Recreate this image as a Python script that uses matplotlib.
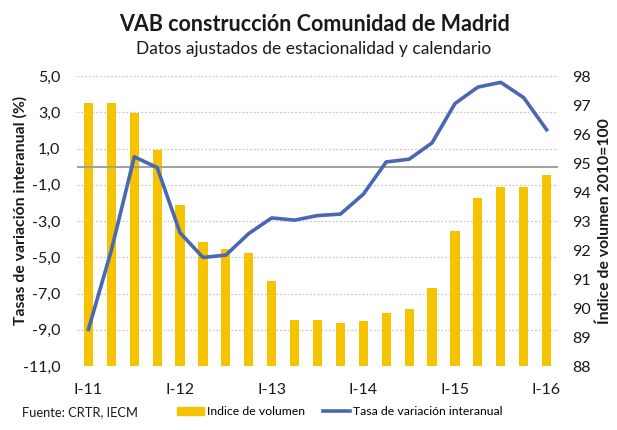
import numpy as np
import matplotlib.pyplot as plt
from matplotlib.patches import Patch
from matplotlib.lines import Line2D

plt.rcParams['font.family'] = ['Lato', 'DejaVu Sans']

# trimestres I-11 ... I-16
quarters = ['I-11', 'II-11', 'III-11', 'IV-11', 'I-12', 'II-12', 'III-12', 'IV-12',
            'I-13', 'II-13', 'III-13', 'IV-13', 'I-14', 'II-14', 'III-14', 'IV-14',
            'I-15', 'II-15', 'III-15', 'IV-15', 'I-16']
indice = [97.08, 97.08, 96.73, 95.46, 93.55, 92.26, 92.03, 91.90, 90.93, 89.58, 89.57,
          89.50, 89.56, 89.83, 89.96, 90.69, 92.65, 93.80, 94.18, 94.17, 94.58]
tasa = [-8.98, -4.61, 0.54, -0.05, -3.65, -5.01, -4.88, -3.69, -2.83, -2.95, -2.70,
        -2.62, -1.52, 0.26, 0.41, 1.31, 3.48, 4.39, 4.65, 3.81, 2.04]
left_ticks = [5, 3, 1, -1, -3, -5, -7, -9, -11]
right_ticks = [88, 89, 90, 91, 92, 93, 94, 95, 96, 97, 98]

bar_color = '#F5C300'
line_color = '#4A67B3'
text_color = '#1a1a1a'

x = np.arange(len(quarters))

fig = plt.figure(figsize=(6.17, 4.30), dpi=100)
ax = fig.add_axes([0.1248, 0.1488, 0.7796, 0.6744])
ax2 = ax.twinx()

# bars on the right axis (index), drawn underneath
ax2.bar(x, np.array(indice) - 88, bottom=88, width=0.4, color=bar_color, zorder=2)
ax2.set_ylim(88, 98)
ax2.set_yticks(right_ticks)

ax.set_ylim(-11, 5)
ax.set_xlim(-0.5, len(quarters) - 0.5)
ax.set_yticks(left_ticks)
ax.set_yticklabels([f'{t:.1f}'.replace('.', ',') for t in left_ticks])

# dotted gridlines at left-axis ticks, behind the bars
for t in left_ticks:
    ax2.plot([-0.5, len(quarters) - 0.5], [t, t], transform=ax.transData,
             color='#C8C8C8', lw=0.9, ls=(0, (1.5, 1.5)), zorder=1)

ax.set_zorder(ax2.get_zorder() + 1)
ax.patch.set_visible(False)
ax.axhline(0, color='#A0A0A0', lw=1.4, zorder=2)
ax.plot(x, tasa, color=line_color, lw=2.6, zorder=3, solid_joinstyle='round')

ax.set_xticks(x[::4])
ax.set_xticklabels(quarters[::4])

for a in (ax, ax2):
    for s in a.spines.values():
        s.set_visible(False)
    a.tick_params(length=0, labelsize=11.5, colors=text_color)
ax.tick_params(axis='x', pad=12)
ax.tick_params(axis='y', pad=12)
ax2.tick_params(axis='y', pad=10)

ax.set_ylabel('Tasas de variación interanual (%)', fontsize=11.3, fontweight='bold',
              color=text_color)
ax.yaxis.set_label_coords(-0.102, 0.538)
ax2.set_ylabel('Índice de volumen 2010=100', fontsize=11.3, fontweight='bold',
               color=text_color)
ax2.yaxis.set_label_coords(1.083, 0.5)

fig.text(0.509, 0.944, 'VAB construcción Comunidad de Madrid', ha='center', va='center',
         fontsize=15.5, fontweight='bold', color=text_color)
fig.text(0.509, 0.885, 'Datos ajustados de estacionalidad y calendario', ha='center',
         va='center', fontsize=12.5, color=text_color)

fig.text(0.036, 0.042, 'Fuente: CRTR, IECM', ha='left', va='center', fontsize=9.3,
         color=text_color)
handles = [Patch(color=bar_color), Line2D([], [], color=line_color, lw=2.6)]
fig.legend(handles, ['Indice de volumen', 'Tasa de variación interanual'],
           loc='center left', bbox_to_anchor=(0.287, 0.042), ncol=2, frameon=False,
           fontsize=8.8, handlelength=2.2, handletextpad=0.25, columnspacing=1.5,
           borderaxespad=0, borderpad=0)

fig.savefig('out.png', dpi=100)
